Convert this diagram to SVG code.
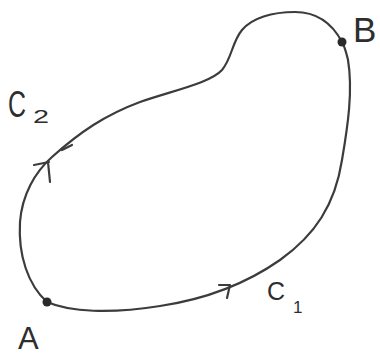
<svg xmlns="http://www.w3.org/2000/svg" width="380" height="356" viewBox="0 0 380 356">
<style>
.curve{fill:none;stroke:#3c3c3c;stroke-width:2.2;stroke-linecap:round;stroke-linejoin:round}
.lbl{font-family:"Liberation Sans",Arial,sans-serif;fill:#2e2e2e;font-weight:normal}
.pt{fill:#2a2a2a}
</style>
<rect width="380" height="356" fill="#ffffff"/>
<g id="connectors">
<path id="C1" class="curve" d="M47,302 C70,312 110,314 160,306 C200,300 240,288 280,260 C315,235 335,205 342,160 C348,125 353,90 348,60 C346,52 345,47 342,42"/>
<path id="C2" class="curve" d="M47,302 C28,285 18,255 20,222 C22,195 35,172 52,157 C80,132 105,115 140,102 C175,90 210,83 222,70 C232,58 232,42 242,30 C252,18 272,12 295,12 C318,12 333,25 342,42"/>
<path class="curve" d="M34,165 L49,162 M48,162 L50,182"/>
<path class="curve" d="M62,150 L72,145"/>
<path class="curve" d="M219,285 L230,285 L227,298"/>
</g>
<g id="A"><circle class="pt" cx="47" cy="302" r="4.5"/><text class="lbl" x="18" y="349" font-size="31">A</text></g>
<g id="B"><circle class="pt" cx="342" cy="42" r="4.5"/><text class="lbl" x="353" y="42" font-size="35">B</text></g>
<g id="labelC2"><text class="lbl" x="8" y="117" font-size="36" textLength="18" lengthAdjust="spacingAndGlyphs">C</text><text class="lbl" x="33" y="123" font-size="19" textLength="16" lengthAdjust="spacingAndGlyphs">2</text></g>
<g id="labelC1"><text class="lbl" x="267" y="300" font-size="25">C</text><text class="lbl" x="293" y="313" font-size="17">1</text></g>
</svg>
